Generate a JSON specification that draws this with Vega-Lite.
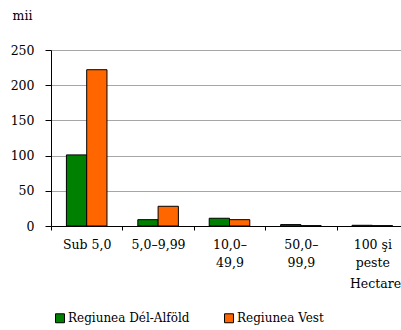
{
  "$schema": "https://vega.github.io/schema/vega-lite/v6.json",
  "width": 357,
  "height": 176,
  "autosize": "none",
  "padding": {"left": 51, "top": 50, "right": 0, "bottom": 104},
  "background": "white",
  "config": {
    "font": "DejaVu Serif",
    "view": {"stroke": null},
    "axis": {"labelFont": "DejaVu Serif", "titleFont": "DejaVu Serif", "labelColor": "#000", "titleColor": "#000", "labelFontSize": 12.5, "titleFontSize": 12.5, "titleFontWeight": "normal"},
    "legend": {"labelFont": "DejaVu Serif"}
  },
  "data": {
    "values": [
      {"cat": "Sub 5,0", "region": "Regiunea Dél-Alföld", "value": 101},
      {"cat": "Sub 5,0", "region": "Regiunea Vest", "value": 222},
      {"cat": "5,0–9,99", "region": "Regiunea Dél-Alföld", "value": 9},
      {"cat": "5,0–9,99", "region": "Regiunea Vest", "value": 28},
      {"cat": "10,0–|49,9", "region": "Regiunea Dél-Alföld", "value": 11},
      {"cat": "10,0–|49,9", "region": "Regiunea Vest", "value": 9},
      {"cat": "50,0–|99,9", "region": "Regiunea Dél-Alföld", "value": 2},
      {"cat": "50,0–|99,9", "region": "Regiunea Vest", "value": 0.5},
      {"cat": "100 şi|peste", "region": "Regiunea Dél-Alföld", "value": 1},
      {"cat": "100 şi|peste", "region": "Regiunea Vest", "value": 0.5}
    ]
  },
  "mark": {"type": "bar", "stroke": "#000", "strokeWidth": 1},
  "encoding": {
    "x": {
      "field": "cat", "type": "nominal", "sort": null,
      "scale": {"paddingInner": 0, "paddingOuter": 0},
      "axis": {
        "labelAngle": 0, "labelExpr": "split(datum.label, '|')", "labelLineHeight": 18,
        "labelPadding": 8, "tickBand": "extent", "tickSize": 4, "tickColor": "#000",
        "domainColor": "#000", "grid": false,
        "title": "Hectare", "titleX": 324, "titleY": 57, "titleAnchor": "middle", "titleBaseline": "middle"
      }
    },
    "xOffset": {"field": "region", "type": "nominal", "scale": {"paddingInner": 0, "paddingOuter": 0.76}},
    "y": {
      "field": "value", "type": "quantitative",
      "scale": {"domain": [0, 250], "nice": false},
      "axis": {
        "values": [0, 50, 100, 150, 200, 250], "tickSize": 6, "tickColor": "#000",
        "domainColor": "#000", "gridColor": "#a6a6a6", "gridWidth": 1.2, "labelPadding": 11,
        "title": "mii", "titleAngle": 0, "titleX": -29, "titleY": -28, "titleAlign": "center"
      }
    },
    "color": {
      "field": "region", "type": "nominal",
      "scale": {"domain": ["Regiunea Dél-Alföld", "Regiunea Vest"], "range": ["#008000", "#ff6600"]},
      "legend": {
        "title": null, "orient": "none", "direction": "horizontal", "legendX": 3, "legendY": 262,
        "symbolType": "square", "symbolSize": 80, "symbolStrokeColor": "#000", "symbolStrokeWidth": 1,
        "symbolOpacity": 1, "labelFontSize": 12, "labelColor": "#000",
        "labelOffset": 2, "columnPadding": 32
      }
    }
  }
}
